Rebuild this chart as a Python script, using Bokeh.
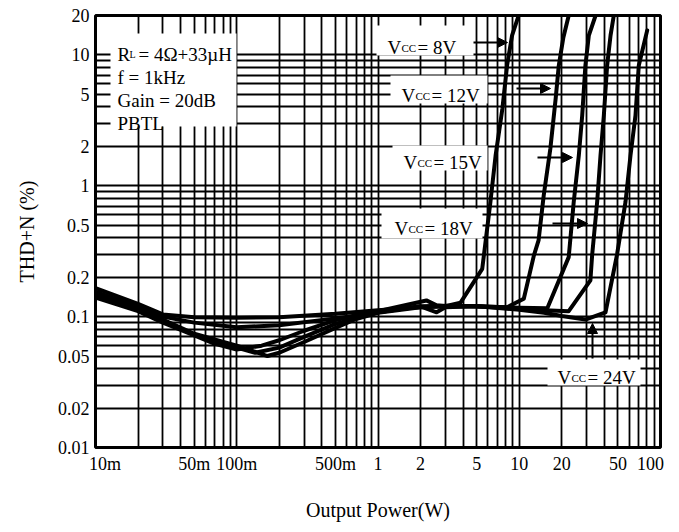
import math
from bokeh.plotting import figure
from bokeh.models import Range1d, FixedTicker, BoxAnnotation, Label, Arrow, NormalHead
from bokeh.embed import file_html
from bokeh.resources import INLINE

# ---------------- data ----------------
p_8v = [0.01, 0.02, 0.03, 0.05, 0.07, 0.1, 0.15, 0.2, 0.3, 0.5, 1, 2.2, 2.6, 3, 3.84, 5.47, 6.25, 6.8, 7.6, 8.2, 8.9, 9.9]
thd_8v = [0.14, 0.11, 0.09, 0.072, 0.062, 0.056, 0.06, 0.066, 0.078, 0.094, 0.11, 0.133, 0.122, 0.12, 0.128, 0.232, 0.75, 1.7, 3.9, 8.3, 14.1, 20]

p_12v = [0.01, 0.02, 0.03, 0.05, 0.1, 0.135, 0.2, 0.3, 0.5, 1, 2, 2.6, 3, 5, 8.2, 10.77, 12.7, 13.7, 14.9, 16.6, 18.1, 19.05, 20.5, 22.4]
thd_12v = [0.145, 0.112, 0.093, 0.073, 0.058, 0.053, 0.058, 0.07, 0.088, 0.108, 0.12, 0.108, 0.118, 0.12, 0.118, 0.137, 0.294, 0.382, 0.843, 1.92, 4.62, 8.3, 13.5, 20]

p_15v = [0.01, 0.02, 0.03, 0.05, 0.1, 0.165, 0.2, 0.3, 0.5, 0.7, 1, 2, 3, 5, 10, 15.8, 22.4, 24.3, 26.4, 27.9, 29.4, 31.1, 34.7]
thd_15v = [0.15, 0.115, 0.095, 0.074, 0.06, 0.05, 0.053, 0.064, 0.082, 0.096, 0.107, 0.118, 0.12, 0.12, 0.117, 0.116, 0.285, 0.75, 1.7, 3.44, 8.3, 14.1, 20]

p_18v = [0.01, 0.02, 0.03, 0.05, 0.1, 0.2, 0.5, 1, 2, 3, 5, 10, 15, 22.4, 31.9, 32.8, 35.6, 37.6, 39.7, 41.9, 44.3, 46.7]
thd_18v = [0.155, 0.118, 0.1, 0.09, 0.083, 0.086, 0.097, 0.108, 0.12, 0.121, 0.12, 0.115, 0.112, 0.11, 0.189, 0.294, 0.75, 1.7, 3.44, 8.3, 14.1, 20]

p_24v = [0.01, 0.02, 0.03, 0.05, 0.1, 0.2, 0.5, 1, 2, 3, 5, 10, 15, 20, 29.4, 40.8, 49.3, 56.5, 61.3, 66.5, 70.2, 80.5]
thd_24v = [0.165, 0.125, 0.104, 0.099, 0.098, 0.099, 0.105, 0.112, 0.118, 0.12, 0.12, 0.113, 0.107, 0.101, 0.095, 0.108, 0.3, 0.75, 1.7, 3.44, 8.3, 15.4]

x_tick_values = [0.01, 0.05, 0.1, 0.5, 1, 2, 5, 10, 20, 50, 100]
x_tick_labels = ["10m", "50m", "100m", "500m", "1", "2", "5", "10", "20", "50", "100"]
y_tick_values = [0.01, 0.02, 0.05, 0.1, 0.2, 0.5, 1, 2, 5, 10, 20]
y_tick_labels = ["0.01", "0.02", "0.05", "0.1", "0.2", "0.5", "1", "2", "5", "10", "20"]

note_lines = ["f = 1kHz", "Gain = 20dB", "PBTL"]
vcc_names = ["8V", "12V", "15V", "18V", "24V"]

# ---------------- layout helpers ----------------
X0, X1, Y0, Y1 = 0.01, 100.0, 0.01, 20.0
FL, FT, FW, FH = 95.0, 15.0, 565.0, 432.0   # frame position in the picture (px)


def px2x(px):
    return 10 ** (math.log10(X0) + (px - FL) / FW * (math.log10(X1) - math.log10(X0)))


def py2y(py):
    return 10 ** (math.log10(Y1) - (py - FT) / FH * (math.log10(Y1) - math.log10(Y0)))


FONT = "Liberation Serif"

p = figure(width=671, height=524, x_axis_type="log", y_axis_type="log",
           x_range=Range1d(X0, X1), y_range=Range1d(Y0, Y1),
           output_backend="svg", toolbar_location=None,
           min_border_left=95, min_border_right=11, min_border_top=15, min_border_bottom=77,
           background_fill_color="white", border_fill_color="white")

# grid on every 1..9 step
x_grid = [k * 10 ** e for e in range(-2, 2) for k in range(1, 10)] + [100]
y_grid = [k * 10 ** e for e in range(-2, 1) for k in range(1, 10)] + [10, 20]
p.xgrid.ticker = FixedTicker(ticks=x_grid)
p.ygrid.ticker = FixedTicker(ticks=y_grid)
for g in (p.xgrid, p.ygrid):
    g.grid_line_color = "black"
    g.grid_line_width = 1.8
    g.grid_line_alpha = 1.0

p.outline_line_color = "black"
p.outline_line_width = 3

# axes: the two end labels sit nudged inside the frame, as in the reference
x_label_pos = list(x_tick_values)
x_label_pos[0] = px2x(FL + 9.5)
x_label_pos[-1] = px2x(FL + FW - 10)
p.xaxis.ticker = FixedTicker(ticks=x_label_pos)
p.xaxis.major_label_overrides = {v: s for v, s in zip(x_label_pos, x_tick_labels)}
p.yaxis.ticker = FixedTicker(ticks=y_tick_values)
p.yaxis.major_label_overrides = {v: s for v, s in zip(y_tick_values, y_tick_labels)}
for ax in (p.xaxis, p.yaxis):
    ax.axis_line_color = None
    ax.major_tick_line_color = None
    ax.minor_tick_line_color = None
    ax.major_tick_out = 0
    ax.major_tick_in = 0
    ax.minor_tick_out = 0
    ax.minor_tick_in = 0
    ax.major_label_text_font = FONT
    ax.major_label_text_font_size = "18px"
    ax.major_label_text_color = "black"
    ax.major_label_standoff = 6
    ax.axis_label_text_font = FONT
    ax.axis_label_text_font_size = "20px"
    ax.axis_label_text_font_style = "normal"
    ax.axis_label_text_color = "black"
p.xaxis.axis_label = "Output Power(W)"
p.yaxis.axis_label = "THD+N (%)"
p.xaxis.axis_label_standoff = 22
p.yaxis.axis_label_standoff = 17

# curves
for xs, ys in ((p_8v, thd_8v), (p_12v, thd_12v), (p_15v, thd_15v), (p_18v, thd_18v), (p_24v, thd_24v)):
    p.line(xs, ys, line_color="black", line_width=4, line_join="round", line_cap="round")

# white boxes
boxes = [(110, 236, 33, 126),      # conditions
         (376, 473, 25, 55),       # 8V
         (390, 487, 75, 103),      # 12V
         (392, 487, 145, 170),     # 15V
         (381, 482, 208, 238),     # 18V
         (547, 640, 359, 385)]     # 24V
for l, r, t, b in boxes:
    p.add_layout(BoxAnnotation(left=px2x(l), right=px2x(r), top=py2y(t), bottom=py2y(b),
                               fill_color="white", fill_alpha=1.0, line_alpha=0.0))


def text(px, py, s, size="19px"):
    p.add_layout(Label(x=px2x(px), y=py2y(py), text=s, text_align="left", text_baseline="alphabetic",
                       text_font=FONT, text_font_size=size, text_color="black"))


# condition block
text(117, 54, "R")
text(129, 54, "L", "10px")
text(138, 54, "= 4Ω+33µH")
for i, s in enumerate(note_lines):
    text(117, 77 + 23 * i, s)

# Vcc labels: (V start px, baseline px)
vcc_pos = [(387, 47), (401, 95), (403, 162), (394, 228), (557, 377)]
for (vx, vy), name in zip(vcc_pos, vcc_names):
    text(vx, vy, "V")
    text(vx + 14, vy, "CC", "11px")
    text(vx + 30, vy, "= " + name)

# arrows (start px, end px)
arrows = [((473, 42), (507, 42)),
          ((516, 88), (550, 88)),
          ((537, 157), (572, 157)),
          ((552, 223), (587, 223)),
          ((592, 358), (592, 323))]
for (sx, sy), (ex, ey) in arrows:
    p.add_layout(Arrow(end=NormalHead(size=10, fill_color="black", line_color="black", line_width=1),
                       x_start=px2x(sx), y_start=py2y(sy), x_end=px2x(ex), y_end=py2y(ey),
                       line_color="black", line_width=2))

open("out.html", "w").write(file_html(p, INLINE))
